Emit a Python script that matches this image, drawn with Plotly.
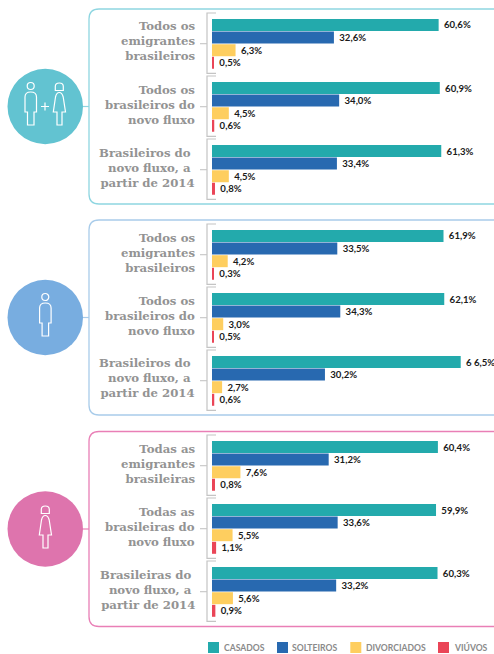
import plotly.graph_objects as go

W, H = 494, 654

# ---- data ----
series_names = ["CASADOS", "SOLTEIROS", "DIVORCIADOS", "VIÚVOS"]
casados = [60.6, 60.9, 61.3, 61.9, 62.1, 66.5, 60.4, 59.9, 60.3]
solteiros = [32.6, 34.0, 33.4, 33.5, 34.3, 30.2, 31.2, 33.6, 33.2]
divorciados = [6.3, 4.5, 4.5, 4.2, 3.0, 2.7, 7.6, 5.5, 5.6]
viuvos = [0.5, 0.6, 0.8, 0.3, 0.5, 0.6, 0.8, 1.1, 0.9]
categories = [
    "Todos os<br>emigrantes<br>brasileiros",
    "Todos os<br>brasileiros do<br>novo fluxo",
    "Brasileiros do&nbsp;<br>novo fluxo, a&nbsp;<br>partir de 2014",
    "Todos os<br>emigrantes<br>brasileiros",
    "Todos os<br>brasileiros do<br>novo fluxo",
    "Brasileiros do&nbsp;<br>novo fluxo, a&nbsp;<br>partir de 2014",
    "Todas as<br>emigrantes<br>brasileiras",
    "Todas as<br>brasileiras do<br>novo fluxo",
    "Brasileiras do&nbsp;<br>novo fluxo, a&nbsp;<br>partir de 2014",
]
label_overrides = {66.5: "6 6,5%"}

# ---- style ----
series_colors = ["#23AAAC", "#2869B0", "#FECE5F", "#EA4557"]
panel_border = ["#8FD6E1", "#A9CCEA", "#E97FB6"]
circle_fill = ["#62C3D1", "#78ADE0", "#DE74AD"]
panel_top = [9, 220, 431.5]
panel_h = 195
bars_top = [18.7, 229.7, 440.7]
slot = 12.6
bracket_col = "#C4C4C4"
label_col = "#939393"


def px(x):
    return x / W


def py(y):
    return 1 - y / H


def P(x, y):
    return f"{px(x):.5f},{py(y):.5f}"


def fmt(v):
    return "\u00a0" + label_overrides.get(v, f"{v:.1f}".replace(".", ",") + "%")


fig = go.Figure()
values = [casados, solteiros, divorciados, viuvos]
shapes, annotations = [], []

for p in range(3):
    yname = "y" if p == 0 else f"y{p + 1}"
    for s, vals in enumerate(values):
        v = vals[p * 3:p * 3 + 3]
        fig.add_trace(go.Bar(
            x=v,
            y=[g * 5 + s for g in range(3)],
            orientation="h",
            width=0.95,
            name=series_names[s],
            marker=dict(color=series_colors[s], line=dict(width=0)),
            text=[fmt(a) for a in v],
            textposition="outside",
            cliponaxis=False,
            textfont=dict(family="Lato", size=9.6, color="#1A1A1A", weight="bold"),
            showlegend=False,
            xaxis="x",
            yaxis=yname,
        ))

    # panel outline, open to the right edge
    t, b, l, r = panel_top[p], panel_top[p] + panel_h, 89, 10
    path = (f"M{P(W + 5, t)} L{P(l + r, t)} Q{P(l, t)} {P(l, t + r)} "
            f"L{P(l, b - r)} Q{P(l, b)} {P(l + r, b)} L{P(W + 5, b)}")
    shapes.append(dict(type="path", xref="paper", yref="paper", path=path,
                       line=dict(color=panel_border[p], width=1.3)))

    # circle and connector
    cy = t + 97.5
    shapes.append(dict(type="line", xref="paper", yref="paper", x0=px(80), x1=px(89),
                       y0=py(cy), y1=py(cy), line=dict(color=panel_border[p], width=1.2)))
    shapes.append(dict(type="circle", xref="paper", yref="paper", x0=px(7.5), x1=px(83),
                       y0=py(cy - 37.7), y1=py(cy + 37.7), fillcolor=circle_fill[p],
                       line=dict(width=0)))

    # brackets + labels per group
    for g in range(3):
        bt = bars_top[p] + g * 63 - 5.7
        bb = bt + 60.3
        mid = bars_top[p] + g * 63 + 25
        shapes.append(dict(type="path", xref="paper", yref="paper",
                           path=f"M{P(216, bt)} L{P(207, bt)} L{P(207, bb)} L{P(216, bb)}",
                           line=dict(color=bracket_col, width=1.2)))
        shapes.append(dict(type="line", xref="paper", yref="paper", x0=px(200), x1=px(207),
                           y0=py(mid), y1=py(mid), line=dict(color=bracket_col, width=1.1)))
        annotations.append(dict(
            xref="paper", yref="paper", x=px(197), y=py(mid - 2.2),
            text=categories[p * 3 + g], showarrow=False, xanchor="right", yanchor="middle",
            align="right",
            font=dict(family="DejaVu Serif", size=11.7, color=label_col, weight="bold"),
        ))


def man(dx, dy):
    X = lambda x: x + dx
    Y = lambda y: y + dy
    head = dict(type="circle", xref="paper", yref="paper", x0=px(X(27.2)), x1=px(X(34.2)),
                y0=py(Y(82.5)), y1=py(Y(89.5)), line=dict(color="white", width=1.2))
    body = (f"M{P(X(25), Y(112))} L{P(X(25), Y(97))} Q{P(X(25), Y(92))} {P(X(30.7), Y(92))} "
            f"Q{P(X(36.5), Y(92))} {P(X(36.5), Y(97))} L{P(X(36.5), Y(112))} L{P(X(34), Y(112))} "
            f"L{P(X(34), Y(125))} L{P(X(27.5), Y(125))} L{P(X(27.5), Y(112))} Z")
    return [head, dict(type="path", xref="paper", yref="paper", path=body,
                       line=dict(color="white", width=1.2))]


def woman(dx, dy):
    X = lambda x: x + dx
    Y = lambda y: y + dy
    head = (f"M{P(X(55.3), Y(90.5))} L{P(X(55.3), Y(86.5))} Q{P(X(55.3), Y(83))} {P(X(59.3), Y(83))} "
            f"Q{P(X(63.3), Y(83))} {P(X(63.3), Y(86.5))} L{P(X(63.3), Y(90.5))} Z")
    body = (f"M{P(X(53.3), Y(112))} L{P(X(55.5), Y(97))} Q{P(X(56.5), Y(92.5))} {P(X(59.3), Y(92.5))} "
            f"Q{P(X(62), Y(92.5))} {P(X(63.2), Y(97))} L{P(X(65.5), Y(112))} L{P(X(62), Y(112))} "
            f"L{P(X(62), Y(125))} L{P(X(57), Y(125))} L{P(X(57), Y(112))} Z")
    return [dict(type="path", xref="paper", yref="paper", path=d,
                 line=dict(color="white", width=1.2)) for d in (head, body)]


shapes += man(0, 0) + woman(0, 0)
shapes.append(dict(type="path", xref="paper", yref="paper",
                   path=f"M{P(41, 106.5)} L{P(49, 106.5)} M{P(45, 102.5)} L{P(45, 110.5)}",
                   line=dict(color="white", width=1.2)))
shapes += man(14.6, 211)
shapes += woman(-14, 423)

# legend
sw_x = [208, 277, 350.3, 438]
tx_x = [222, 290, 364, 452]
for i, name in enumerate(series_names):
    shapes.append(dict(type="rect", xref="paper", yref="paper", x0=px(sw_x[i]), x1=px(sw_x[i] + 11),
                       y0=py(642), y1=py(653), fillcolor=series_colors[i], line=dict(width=0)))
    annotations.append(dict(xref="paper", yref="paper", x=px(tx_x[i]), y=py(647.7), text=name,
                            showarrow=False, xanchor="left", yanchor="middle",
                            font=dict(family="Lato", size=8.6, color="#8A8A8A", weight="bold")))

layout = dict(
    width=W, height=H, margin=dict(l=0, r=0, t=0, b=0),
    paper_bgcolor="white", plot_bgcolor="rgba(0,0,0,0)",
    barmode="overlay", showlegend=False, shapes=shapes, annotations=annotations,
    xaxis=dict(domain=[px(212), 1], range=[0, (W - 212) / 3.74], visible=False, fixedrange=True),
)
for p in range(3):
    key = "yaxis" if p == 0 else f"yaxis{p + 1}"
    top = bars_top[p]
    layout[key] = dict(domain=[py(top + 14 * slot), py(top)], range=[13.5, -0.5], visible=False,
                       anchor="x", fixedrange=True)
fig.update_layout(**layout)
fig.write_html("out.html", config={"displayModeBar": False},
               post_script="document.body.style.margin='0';document.documentElement.style.overflow='hidden';")
